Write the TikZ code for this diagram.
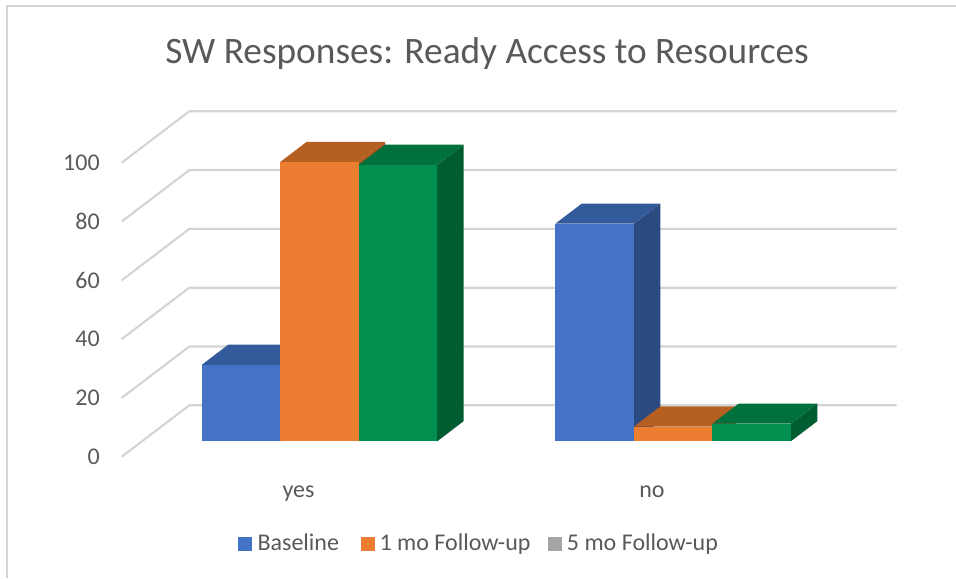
\documentclass[tikz,border=0pt]{standalone}
\usepackage{fontspec}
\setmainfont{Carlito}
\usepackage{tikz}
\definecolor{txtgray}{HTML}{595959}
\definecolor{gridgray}{HTML}{D4D4D4}
\definecolor{blueF}{HTML}{4472C4}
\definecolor{blueT}{HTML}{335A9B}
\definecolor{blueS}{HTML}{2A4A80}
\definecolor{orangeF}{HTML}{ED7D31}
\definecolor{orangeT}{HTML}{B55F21}
\definecolor{orangeS}{HTML}{A5561E}
\definecolor{greenF}{HTML}{008F4F}
\definecolor{greenT}{HTML}{00703C}
\definecolor{greenS}{HTML}{005C31}
\definecolor{keygray}{HTML}{A5A5A5}
\tikzstyle{grid}=[draw=gridgray,line width=1.6pt,line join=round]
\tikzstyle{tick}=[anchor=east,font=\fontsize{18}{20}\selectfont,text=txtgray,inner sep=0pt]
\tikzstyle{cat}=[anchor=base,font=\fontsize{18}{20}\selectfont,text=txtgray,inner sep=0pt]
\tikzstyle{key}=[anchor=base west,font=\fontsize{18}{20}\selectfont,text=txtgray,inner sep=0pt]

\begin{document}
\begin{tikzpicture}[x=0.75pt,y=-0.75pt]
  \useasboundingbox (0,0) rectangle (956,578);
  % chart frame, only top and left show
  \draw[gridgray,line width=1.5pt] (7,578) -- (7,6) -- (956,6);

  \node[anchor=base,font=\fontsize{28}{32}\selectfont,text=txtgray,inner sep=0pt] (title) at (487,63) {SW Responses: Ready Access to Resources};

  % walls: side diagonal then back line
  \path[grid] (121.7,456.7) -- (189.3,405.3) -- (896.7,405.3);
  \path[grid] (121.7,397.9) -- (189.3,346.5) -- (896.7,346.5);
  \path[grid] (121.7,339.1) -- (189.3,287.7) -- (896.7,287.7);
  \path[grid] (121.7,280.3) -- (189.3,228.9) -- (896.7,228.9);
  \path[grid] (121.7,221.5) -- (189.3,170.1) -- (896.7,170.1);
  \path[grid] (121.7,162.7) -- (189.3,111.3) -- (896.7,111.3);

  \node[tick] (t0)   at (100,456.7) {0};
  \node[tick] (t20)  at (100,397.9) {20};
  \node[tick] (t40)  at (100,339.1) {40};
  \node[tick] (t60)  at (100,280.3) {60};
  \node[tick] (t80)  at (100,221.5) {80};
  \node[tick] (t100) at (100,162.7) {100};

  % yes
  \fill[blueS]   (280.2,441.3) -- ++(26.5,-20.2) -- ++(0,-76.4) -- ++(-26.5,20.2) -- cycle;
  \fill[blueT]   (201.7,364.9) -- ++(26.5,-20.2) -- ++(78.5,0) -- ++(-26.5,20.2) -- cycle;
  \fill[blueF]   (201.7,441.3) rectangle (280.2,364.9);
  \fill[orangeS] (358.7,441.3) -- ++(26.5,-20.2) -- ++(0,-279.3) -- ++(-26.5,20.2) -- cycle;
  \fill[orangeT] (280.2,162.0) -- ++(26.5,-20.2) -- ++(78.5,0) -- ++(-26.5,20.2) -- cycle;
  \fill[orangeF] (280.2,441.3) rectangle (358.7,162.0);
  \fill[greenS]  (437.2,441.3) -- ++(26.5,-20.2) -- ++(0,-276.4) -- ++(-26.5,20.2) -- cycle;
  \fill[greenT]  (358.7,164.9) -- ++(26.5,-20.2) -- ++(78.5,0) -- ++(-26.5,20.2) -- cycle;
  \fill[greenF]  (358.7,441.3) rectangle (437.2,164.9);

  % no
  \fill[blueS]   (633.85,441.3) -- ++(26.5,-20.2) -- ++(0,-217.6) -- ++(-26.5,20.2) -- cycle;
  \fill[blueT]   (555.35,223.7) -- ++(26.5,-20.2) -- ++(78.5,0) -- ++(-26.5,20.2) -- cycle;
  \fill[blueF]   (555.35,441.3) rectangle (633.85,223.7);
  \fill[orangeS] (712.35,441.3) -- ++(26.5,-20.2) -- ++(0,-14.7) -- ++(-26.5,20.2) -- cycle;
  \fill[orangeT] (633.85,426.6) -- ++(26.5,-20.2) -- ++(78.5,0) -- ++(-26.5,20.2) -- cycle;
  \fill[orangeF] (633.85,441.3) rectangle (712.35,426.6);
  \fill[greenS]  (790.85,441.3) -- ++(26.5,-20.2) -- ++(0,-17.6) -- ++(-26.5,20.2) -- cycle;
  \fill[greenT]  (712.35,423.7) -- ++(26.5,-20.2) -- ++(78.5,0) -- ++(-26.5,20.2) -- cycle;
  \fill[greenF]  (712.35,441.3) rectangle (790.85,423.7);

  \node[cat] (yes) at (298.5,497) {yes};
  \node[cat] (no)  at (652,497) {no};

  % legend
  \fill[blueF]   (238,536.7) rectangle (251.7,550.7);
  \node[key] (kbase) at (257.3,550.7) {Baseline};
  \fill[orangeF] (361,536.7) rectangle (374.7,550.7);
  \node[key] (kone) at (379.3,550.7) {1 mo Follow-up};
  \fill[keygray] (548.3,536.7) rectangle (562,550.7);
  \node[key] (kfive) at (566.7,550.7) {5 mo Follow-up};
\end{tikzpicture}
\end{document}
